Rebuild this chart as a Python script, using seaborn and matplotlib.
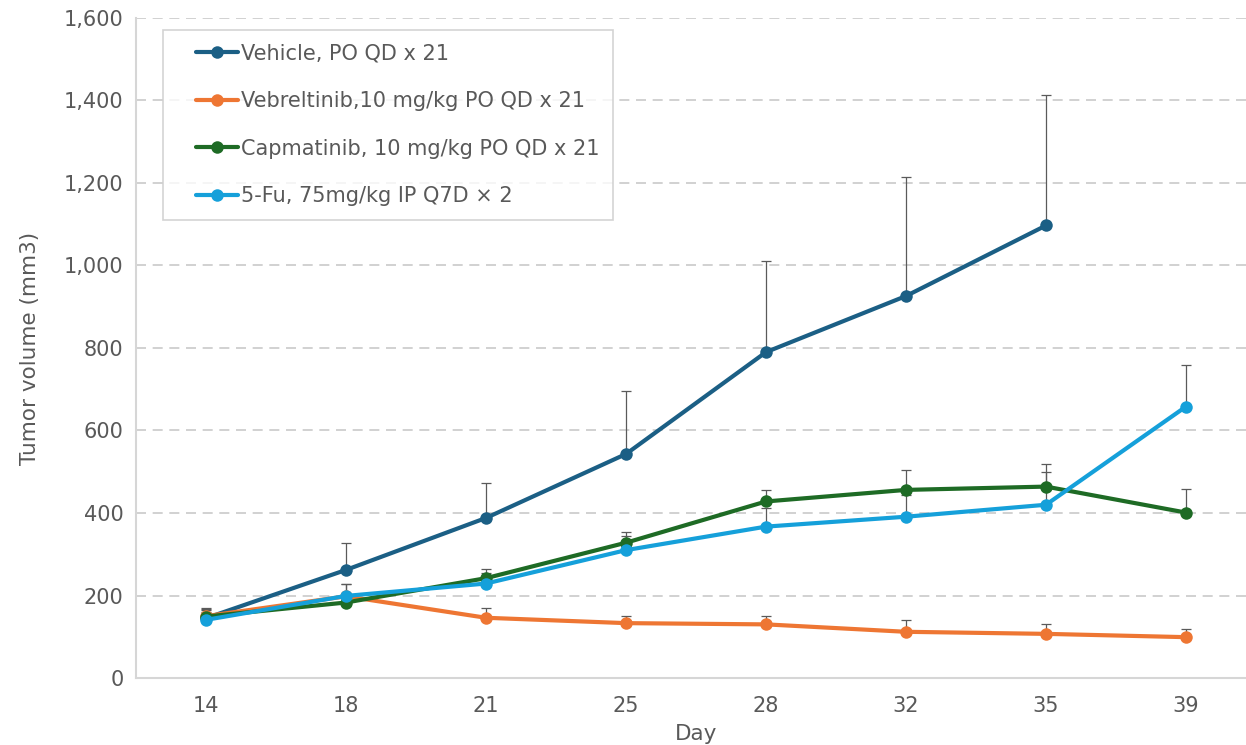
import numpy as np
import pandas as pd
import matplotlib.pyplot as plt
import seaborn as sns
from matplotlib.lines import Line2D
from matplotlib.legend_handler import HandlerLine2D
from matplotlib.ticker import FuncFormatter

# values
days = ["14", "18", "21", "25", "28", "32", "35", "39"]
groups = [
    "Vehicle, PO QD x 21",
    "Vebreltinib,10 mg/kg PO QD x 21",
    "Capmatinib, 10 mg/kg PO QD x 21",
    "5-Fu, 75mg/kg IP Q7D \u00d7 2",
]
vehicle = [145, 262, 388, 543, 790, 926, 1097, np.nan]
vehicle_err = [25, 66, 85, 152, 220, 289, 316, np.nan]
vebreltinib = [150, 198, 146, 133, 130, 112, 107, 99]
vebreltinib_err = [18, 29, 24, 18, 21, 29, 25, 21]
capmatinib = [149, 183, 242, 328, 428, 456, 464, 401]
capmatinib_err = [15, 12, 22, 25, 27, 48, 55, 57]
fu5 = [141, 199, 229, 310, 367, 391, 420, 658]
fu5_err = [19, 28, 26, 34, 45, 53, 79, 101]

colors = ["#1b5f85", "#ee7633", "#1e6b25", "#15a0da"]

values = [vehicle, vebreltinib, capmatinib, fu5]
errors = [vehicle_err, vebreltinib_err, capmatinib_err, fu5_err]

rows = []
for g, vals, errs in zip(groups, values, errors):
    for i, (v, e) in enumerate(zip(vals, errs)):
        rows.append({"pos": i, "day": days[i], "group": g, "volume": v, "err": e})
df = pd.DataFrame(rows).dropna()

sns.set_style("white")
plt.rcParams["font.family"] = ["DejaVu Sans"]
text_color = "#595959"

fig = plt.figure(figsize=(12.46, 7.45), dpi=100)
# plot area runs a little past the right edge, as in the reference
ax = fig.add_axes([136 / 1246, 67 / 745, 1120 / 1246, 660 / 745])

# upper-only error bars, drawn under the lines
for g, c in zip(groups, colors):
    sub = df[df["group"] == g]
    ax.errorbar(sub["pos"], sub["volume"], yerr=[np.zeros(len(sub)), sub["err"]],
                fmt="none", ecolor="#5a5a5a", elinewidth=0.9, capsize=3.8,
                capthick=0.9, zorder=2)

sns.lineplot(data=df, x="pos", y="volume", hue="group", hue_order=groups,
             palette=colors, marker="o", markersize=9, markeredgewidth=0,
             linewidth=3, ax=ax, zorder=3)

ax.set_xlim(-0.5, 7.5)
ax.set_ylim(0, 1600)
ax.set_xticks(range(len(days)))
ax.set_xticklabels(days)
ax.set_yticks(range(0, 1601, 200))
ax.yaxis.set_major_formatter(FuncFormatter(lambda v, _: f"{int(v):,}"))
ax.tick_params(axis="both", length=0, labelsize=15, labelcolor=text_color)
ax.tick_params(axis="x", pad=13)
ax.tick_params(axis="y", pad=9)

ax.grid(axis="y", color="#c9c9c9", linestyle=(0, (6, 4)), linewidth=1.2)
ax.set_axisbelow(True)
for side in ["top", "right"]:
    ax.spines[side].set_visible(False)
for side in ["left", "bottom"]:
    ax.spines[side].set_color("#d6d6d6")
    ax.spines[side].set_linewidth(1.5)

ax.set_xlabel("Day", fontsize=15.5, color=text_color, labelpad=6)
ax.set_ylabel("Tumor volume (mm3)", fontsize=15.5, color=text_color, labelpad=17)

leg = ax.legend(loc="upper left", bbox_to_anchor=(27 / 1120, 1 - 12 / 660),
                fontsize=15, frameon=True, fancybox=False, borderpad=0.65,
                labelspacing=1.32, handlelength=2.95, handletextpad=0.15,
                borderaxespad=0, handler_map={Line2D: HandlerLine2D(xpad=0.92)})
leg.get_frame().set_edgecolor("#c9c9c9")
leg.get_frame().set_linewidth(1.2)
for t in leg.get_texts():
    t.set_color(text_color)

fig.savefig("out.png", dpi=100)
